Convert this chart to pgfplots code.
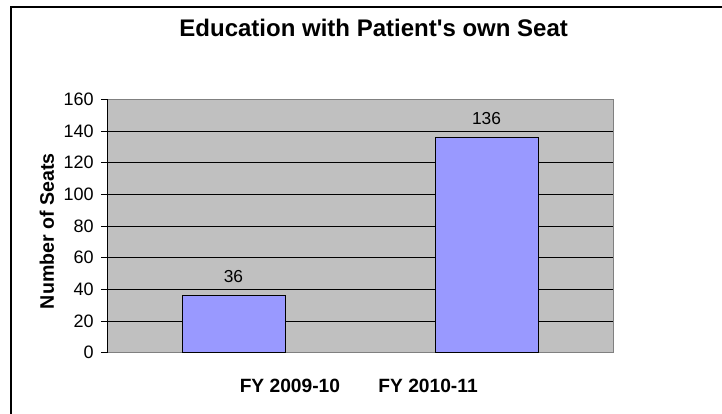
\documentclass[border=0pt]{standalone}
\usepackage{fontspec}
\setmainfont{Liberation Sans}
\usepackage{pgfplots}
\pgfplotsset{compat=1.18}
\definecolor{barfill}{HTML}{9999FF}
\definecolor{plotbg}{HTML}{C0C0C0}
\definecolor{framegray}{HTML}{808080}
\begin{document}
\begin{tikzpicture}
\useasboundingbox (0,0) rectangle (541.5pt,310.5pt);
\draw[line width=1.1pt] (8.25pt,-5pt) -- (8.25pt,305.25pt) -- (560pt,305.25pt);
\begin{axis}[
  at={(80.25pt,45.98pt)}, anchor=south west,
  scale only axis, width=379.5pt, height=189.9pt,
  xmin=0.5, xmax=2.5, ymin=0, ymax=160,
  ytick={0,20,...,160},
  xtick={1.223,1.769},
  xticklabels={FY 2009-10, FY 2010-11},
  /pgf/number format/assume math mode=true,
  axis background/.style={fill=plotbg},
  axis line style={framegray, line width=0.75pt},
  ymajorgrids, grid style={black, line width=0.75pt},
  ytick pos=left, tick align=outside, major tick length=4.5pt,
  major tick style={black, line width=0.75pt},
  major x tick style={draw=none},
  yticklabel style={font=\fontsize{13.5}{16}\selectfont, anchor=east, xshift=-2pt},
  xticklabel style={font=\fontsize{14.4}{17}\selectfont\bfseries, anchor=north, yshift=-11.5pt},
  title={Education with Patient\textquotesingle s own Seat},
  title style={at={(axis description cs:0.527,1.251)}, anchor=center, font=\fontsize{18}{21}\selectfont\bfseries},
  ylabel={Number of Seats},
  ylabel style={at={(axis description cs:-0.1186,0.48)}, anchor=center, font=\fontsize{14.7}{17}\selectfont\bfseries},
  nodes near coords,
  nodes near coords style={font=\fontsize{13}{15}\selectfont, anchor=south, yshift=6pt, black},
]
\addplot[ybar, bar width=77.25pt, bar shift=0pt, fill=barfill, draw=black, line width=0.75pt]
  coordinates {(1,36) (2,136)};
\draw[black, line width=0.75pt] (axis cs:0.5,0) -- (axis cs:0.5,160);
\end{axis}
\end{tikzpicture}
\end{document}
